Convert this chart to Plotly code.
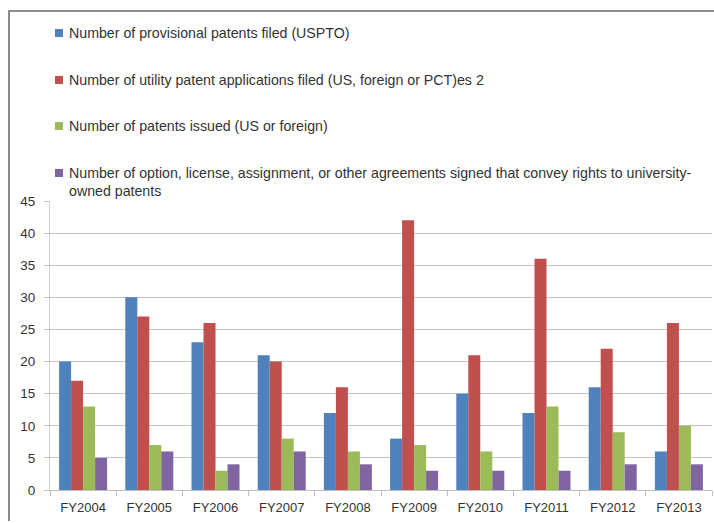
import plotly.graph_objects as go

categories = ["FY2004", "FY2005", "FY2006", "FY2007", "FY2008",
              "FY2009", "FY2010", "FY2011", "FY2012", "FY2013"]
provisional = [20, 30, 23, 21, 12, 8, 15, 12, 16, 6]
utility = [17, 27, 26, 20, 16, 42, 21, 36, 22, 26]
issued = [13, 7, 3, 8, 6, 7, 6, 13, 9, 10]
agreements = [5, 6, 4, 6, 4, 3, 3, 3, 4, 4]

series_names = [
    "Number of provisional patents filed (USPTO)",
    "Number of utility patent applications filed (US, foreign or PCT)es 2",
    "Number of patents issued (US or foreign)",
    "Number of option, license, assignment, or other agreements signed that convey rights to university-<br>owned patents",
]
colors = ["#4F81BD", "#C0504D", "#9BBB59", "#8064A2"]
values = [provisional, utility, issued, agreements]

FONT = "Liberation Sans, Arial, sans-serif"
TXT = "#333333"

W, H = 714, 523
ML, MR, MT, MB = 50, 2, 201, 33
PW, PH = W - ML - MR, H - MT - MB


def px_x(x):
    return (x - ML) / PW


def px_y(y):
    return 1 + (MT - y) / PH


fig = go.Figure()
for name, vals, col in zip(series_names, values, colors):
    fig.add_trace(go.Bar(x=categories, y=vals, name=name.replace("<br>", ""),
                         marker_color=col, marker_line_width=0, showlegend=False))

# outer frame: left and top edges only (others fall outside the view)
border = dict(color="#8c8c8c", width=2)
shapes = [
    dict(type="line", xref="paper", yref="paper", x0=px_x(9), x1=px_x(9),
         y0=px_y(521), y1=px_y(11), line=border, layer="below"),
    dict(type="line", xref="paper", yref="paper", x0=px_x(8), x1=px_x(W),
         y0=px_y(11), y1=px_y(11), line=border, layer="below"),
]

# legend built as annotations + small squares
legend_centers = [33, 80, 126, 173]
annotations = []
for name, col, cy in zip(series_names, colors, legend_centers):
    shapes.append(dict(type="rect", xref="paper", yref="paper",
                       xsizemode="pixel", ysizemode="pixel",
                       xanchor=px_x(59), yanchor=px_y(cy),
                       x0=-4, x1=4, y0=-4, y1=4,
                       fillcolor=col, line=dict(width=0)))
    annotations.append(dict(xref="paper", yref="paper", x=px_x(67), y=px_y(cy - 10),
                            xanchor="left", yanchor="top", align="left",
                            text=name, showarrow=False,
                            font=dict(family=FONT, size=14.2, color=TXT)))

fig.update_layout(
    width=W, height=H,
    margin=dict(l=ML, r=MR, t=MT, b=MB, autoexpand=False),
    paper_bgcolor="white", plot_bgcolor="white",
    barmode="group", bargap=0.275, bargroupgap=0,
    font=dict(family=FONT, size=13, color=TXT),
    showlegend=False,
    shapes=shapes, annotations=annotations,
)
fig.update_xaxes(showgrid=False, showline=True, linecolor="#BFBFBF", linewidth=1,
                 ticks="outside", tickson="boundaries", ticklen=5, tickcolor="#BFBFBF",
                 ticklabelstandoff=5,
                 tickfont=dict(size=13, color=TXT))
fig.update_yaxes(range=[0, 45], dtick=5, showgrid=True, gridcolor="#C4C4C4", gridwidth=1,
                 showline=True, linecolor="#D0D0D0", zeroline=False,
                 ticks="outside", ticklen=5, tickcolor="#C4C4C4",
                 ticklabelstandoff=6,
                 tickfont=dict(size=13.5, color=TXT))

fig.write_html("out.html",
               config={"displayModeBar": False},
               post_script="document.body.style.margin='0';"
                           "document.body.style.overflow='hidden';")
